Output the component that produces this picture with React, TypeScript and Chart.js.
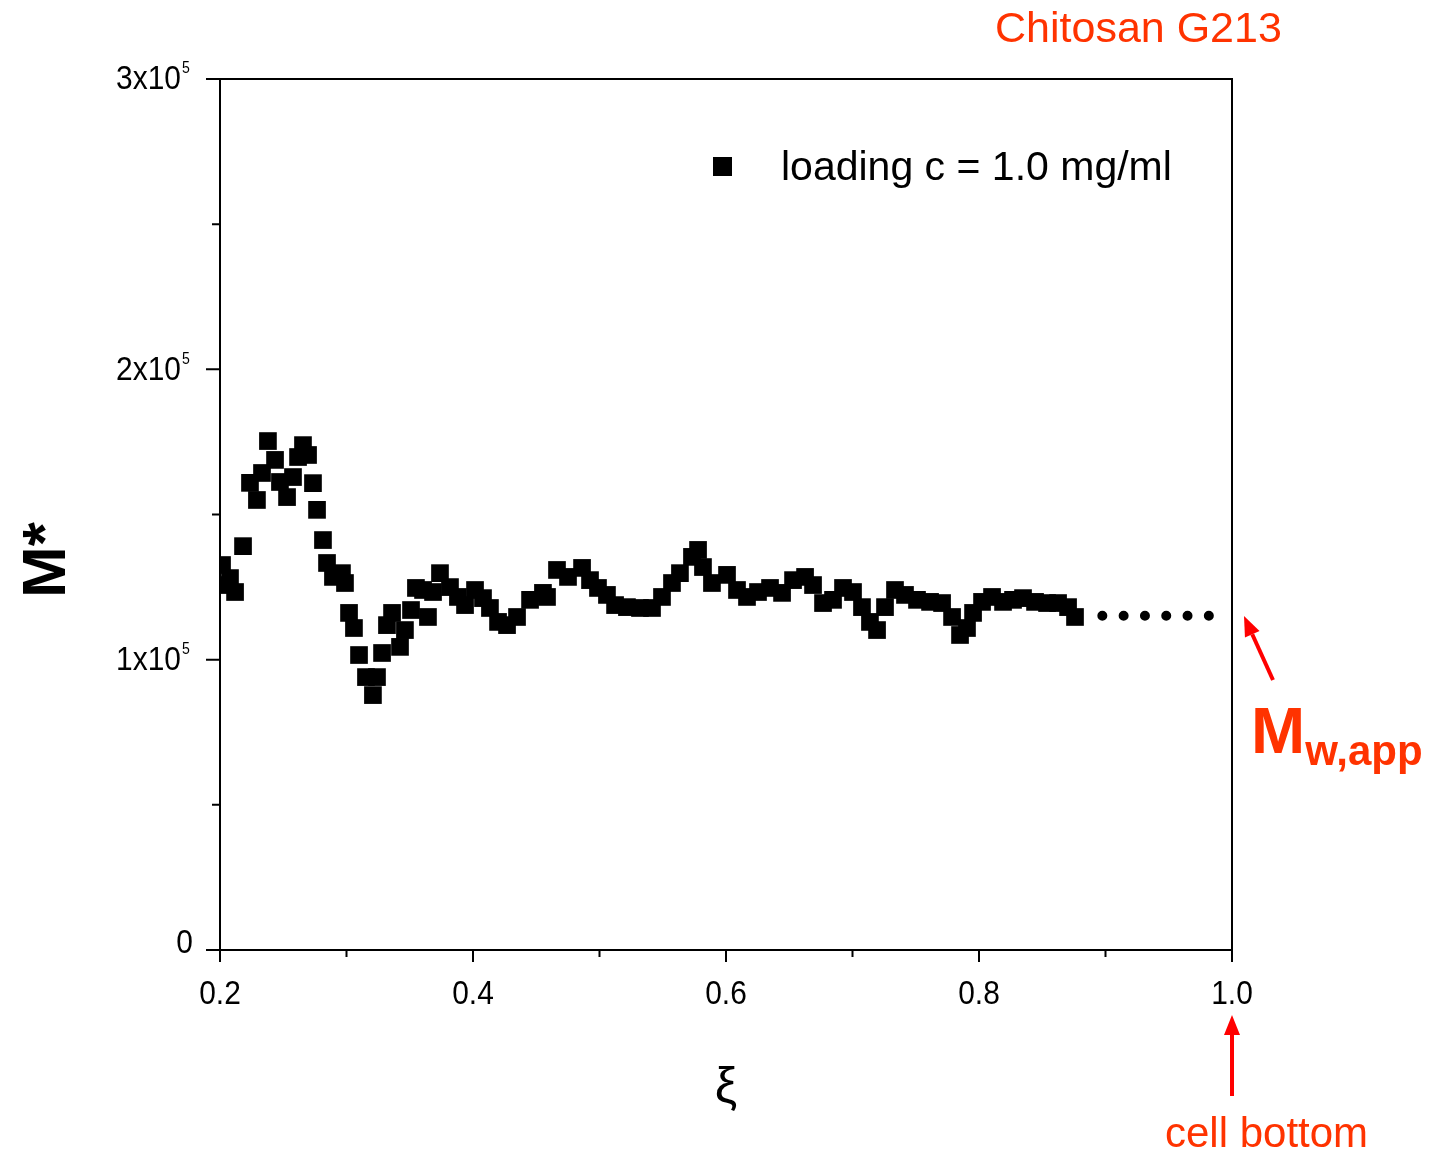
import React, { useEffect, useRef } from "react";
import { Chart, registerables } from "chart.js";

Chart.register(...registerables);

// ---- data ----
const xiValues = [
  0.2016, 0.2047, 0.2079, 0.2119, 0.2182, 0.2237, 0.2292, 0.2332, 0.2379, 0.2435,
  0.2474, 0.253, 0.2577, 0.2617, 0.2656, 0.2696, 0.2735, 0.2767, 0.2814, 0.2846,
  0.2893, 0.2964, 0.2988, 0.302, 0.3059, 0.3099, 0.3154, 0.3209, 0.3241, 0.3281,
  0.332, 0.336, 0.3423, 0.3462, 0.351, 0.3549, 0.3605, 0.3644, 0.3684, 0.3739,
  0.3818, 0.3881, 0.3937, 0.4016, 0.4079, 0.4134, 0.4198, 0.4269, 0.4348, 0.4451,
  0.4553, 0.4585, 0.4664, 0.4751, 0.4862, 0.4925, 0.4988, 0.5059, 0.5123, 0.5217,
  0.532, 0.5415, 0.5494, 0.5573, 0.5636, 0.5731, 0.5779, 0.5818, 0.5889, 0.6008,
  0.6087, 0.6166, 0.6253, 0.6348, 0.6443, 0.653, 0.6625, 0.6688, 0.6767, 0.6846,
  0.6925, 0.7004, 0.7075, 0.7138, 0.7194, 0.7257, 0.7336, 0.7415, 0.751, 0.7613,
  0.7708, 0.7787, 0.785, 0.7905, 0.7953, 0.8024, 0.8103, 0.819, 0.8269, 0.8348,
  0.8443, 0.8538, 0.8625, 0.8704, 0.8759,
];
const mStarValues = [
  132600, 125700, 128100, 123300, 139100, 160900, 155000, 164300, 175300, 168800,
  161200, 156000, 162900, 169800, 173900, 170500, 160800, 151600, 141200, 133300,
  128500, 129800, 126400, 116100, 110900, 101600, 94000, 87800, 94000, 102300,
  111900, 116100, 104400, 110200, 117100, 124700, 124000, 114700, 123300, 129800,
  125000, 121600, 118800, 124000, 121200, 117800, 113000, 111900, 114700, 120600,
  123000, 121600, 130900, 128500, 131600, 127400, 124700, 122300, 118800, 118100,
  117800, 117800, 121600, 126400, 129800, 135400, 137800, 131900, 126400, 129200,
  124000, 121600, 123300, 124700, 123000, 127400, 128500, 125700, 119500, 120600,
  124700, 123300, 118100, 113000, 110200, 118100, 124000, 122300, 120600, 119900,
  119500, 114700, 108500, 110900, 116100, 119900, 121600, 119900, 120600, 121200,
  119900, 119500, 119500, 118100, 114700,
];
const extrapXi = [0.8975, 0.9822];
const extrapM = [115100, 115100];

const xMajorTicks = [0.2, 0.4, 0.6, 0.8, 1.0];
const xTickLabels = ["0.2", "0.4", "0.6", "0.8", "1.0"];
const xMinorTicks = [0.3, 0.5, 0.7, 0.9];
const yMajorTicks = [0, 100000, 200000, 300000];
const yTickBase = ["0", "1x10", "2x10", "3x10"];
const yTickSup = ["", "5", "5", "5"];
const yMinorTicks = [50000, 150000, 250000];

const legendLabel = "loading c = 1.0 mg/ml";
const xTitle = "ξ";
const yTitle = "M*";
const sampleTitle = "Chitosan G213";
const mwMain = "M";
const mwSub = "w,app";
const cellBottomLabel = "cell bottom";

const RED_TEXT = "#ff3300";
const RED_ARROW = "#ff0000";
const FONT = "'Liberation Sans', Arial, sans-serif";

function drawArrow(ctx: CanvasRenderingContext2D, x1: number, y1: number, x2: number, y2: number, color: string) {
  const ang = Math.atan2(y2 - y1, x2 - x1);
  const headLen = 20;
  const headW = 8;
  const bx = x2 - headLen * Math.cos(ang);
  const by = y2 - headLen * Math.sin(ang);
  ctx.save();
  ctx.strokeStyle = color;
  ctx.fillStyle = color;
  ctx.lineWidth = 4;
  ctx.beginPath();
  ctx.moveTo(x1, y1);
  ctx.lineTo(bx, by);
  ctx.stroke();
  ctx.beginPath();
  ctx.moveTo(x2, y2);
  ctx.lineTo(bx + headW * Math.sin(ang), by - headW * Math.cos(ang));
  ctx.lineTo(bx - headW * Math.sin(ang), by + headW * Math.cos(ang));
  ctx.closePath();
  ctx.fill();
  ctx.restore();
}

function scaledText(ctx: CanvasRenderingContext2D, text: string, x: number, y: number, font: string, align: CanvasTextAlign, sx: number) {
  ctx.save();
  ctx.font = font;
  ctx.textAlign = align;
  ctx.translate(x, y);
  ctx.scale(sx, 1);
  ctx.fillText(text, 0, 0);
  ctx.restore();
}

const decorPlugin = {
  id: "decor",
  afterDatasetsDraw(chart: any) {
    const ctx: CanvasRenderingContext2D = chart.ctx;
    const { left, right, top, bottom } = chart.chartArea;
    const xs = chart.scales.x;
    const ys = chart.scales.y;
    ctx.save();
    ctx.strokeStyle = "#000";
    ctx.fillStyle = "#000";
    ctx.lineWidth = 2;
    ctx.beginPath();
    ctx.rect(left, top, right - left, bottom - top);
    ctx.stroke();

    // x ticks
    ctx.beginPath();
    xMajorTicks.forEach((v) => {
      const px = xs.getPixelForValue(v);
      ctx.moveTo(px, bottom);
      ctx.lineTo(px, bottom + 12);
    });
    xMinorTicks.forEach((v) => {
      const px = xs.getPixelForValue(v);
      ctx.moveTo(px, bottom);
      ctx.lineTo(px, bottom + 7);
    });
    // y ticks
    yMajorTicks.forEach((v) => {
      const py = ys.getPixelForValue(v);
      ctx.moveTo(left, py);
      ctx.lineTo(left - 14, py);
    });
    yMinorTicks.forEach((v) => {
      const py = ys.getPixelForValue(v);
      ctx.moveTo(left, py);
      ctx.lineTo(left - 8, py);
    });
    ctx.stroke();

    ctx.textBaseline = "middle";
    xMajorTicks.forEach((v, i) => {
      scaledText(ctx, xTickLabels[i], xs.getPixelForValue(v), bottom + 45, `34px ${FONT}`, "center", 0.88);
    });
    yMajorTicks.forEach((v, i) => {
      const py = ys.getPixelForValue(v);
      if (yTickSup[i]) {
        scaledText(ctx, yTickBase[i], left - 39, py + 1, `34px ${FONT}`, "right", 0.88);
        scaledText(ctx, yTickSup[i], left - 38, py - 10, `16px ${FONT}`, "left", 0.88);
      } else {
        scaledText(ctx, yTickBase[i], left - 27, py - 6, `34px ${FONT}`, "right", 0.88);
      }
    });

    // axis titles
    ctx.textBaseline = "alphabetic";
    ctx.font = `50px ${FONT}`;
    ctx.textAlign = "center";
    ctx.fillText(xTitle, (left + right) / 2, 1102);

    ctx.save();
    ctx.translate(65, 560);
    ctx.rotate(-Math.PI / 2);
    ctx.font = `bold 62px ${FONT}`;
    ctx.textAlign = "center";
    ctx.fillText(yTitle, 0, 0);
    ctx.restore();

    // legend
    ctx.fillRect(713, 157, 19, 19);
    ctx.textBaseline = "middle";
    ctx.textAlign = "left";
    ctx.font = `41px ${FONT}`;
    ctx.fillText(legendLabel, 781, 169);

    // annotations
    ctx.fillStyle = RED_TEXT;
    ctx.textBaseline = "alphabetic";
    ctx.font = `43px ${FONT}`;
    ctx.fillText(sampleTitle, 995, 42);

    ctx.font = `bold 65px ${FONT}`;
    ctx.fillText(mwMain, 1251, 753);
    const mW = ctx.measureText(mwMain).width;
    ctx.font = `bold 42px ${FONT}`;
    ctx.fillText(mwSub, 1251 + mW, 765);

    ctx.font = `42px ${FONT}`;
    ctx.fillText(cellBottomLabel, 1165, 1147);

    drawArrow(ctx, 1273, 680, 1244, 616, RED_ARROW);
    drawArrow(ctx, 1232, 1096, 1232, 1015, RED_ARROW);
    ctx.restore();
  },
};

export default function App() {
  const ref = useRef<HTMLCanvasElement | null>(null);
  useEffect(() => {
    document.body.style.margin = "0";
    const canvas = ref.current;
    if (!canvas) return;
    const points = xiValues.map((x, i) => ({ x, y: mStarValues[i] }));
    const extrap = extrapXi.map((x, i) => ({ x, y: extrapM[i] }));
    const chart = new Chart(canvas, {
      type: "scatter",
      data: {
        datasets: [
          {
            label: legendLabel,
            data: points,
            pointStyle: "rect",
            pointRadius: 12.5,
            pointHoverRadius: 12.5,
            backgroundColor: "#000",
            borderColor: "#000",
            pointBorderWidth: 0,
            showLine: false,
          } as any,
          {
            label: "extrapolation",
            data: extrap,
            showLine: true,
            pointRadius: 0,
            borderColor: "#000",
            borderWidth: 10,
            borderDash: [0, 21.3],
            borderCapStyle: "round",
          } as any,
        ],
      },
      options: {
        responsive: false,
        animation: false,
        devicePixelRatio: 1,
        layout: { padding: { left: 220, right: 200, top: 79, bottom: 205 } },
        scales: {
          x: { type: "linear", min: 0.2, max: 1.0, display: false },
          y: { type: "linear", min: 0, max: 300000, display: false },
        },
        plugins: { legend: { display: false }, tooltip: { enabled: false } },
        events: [],
      },
      plugins: [decorPlugin],
    });
    return () => chart.destroy();
  }, []);
  return <canvas ref={ref} width={1432} height={1155} style={{ display: "block" }} />;
}
